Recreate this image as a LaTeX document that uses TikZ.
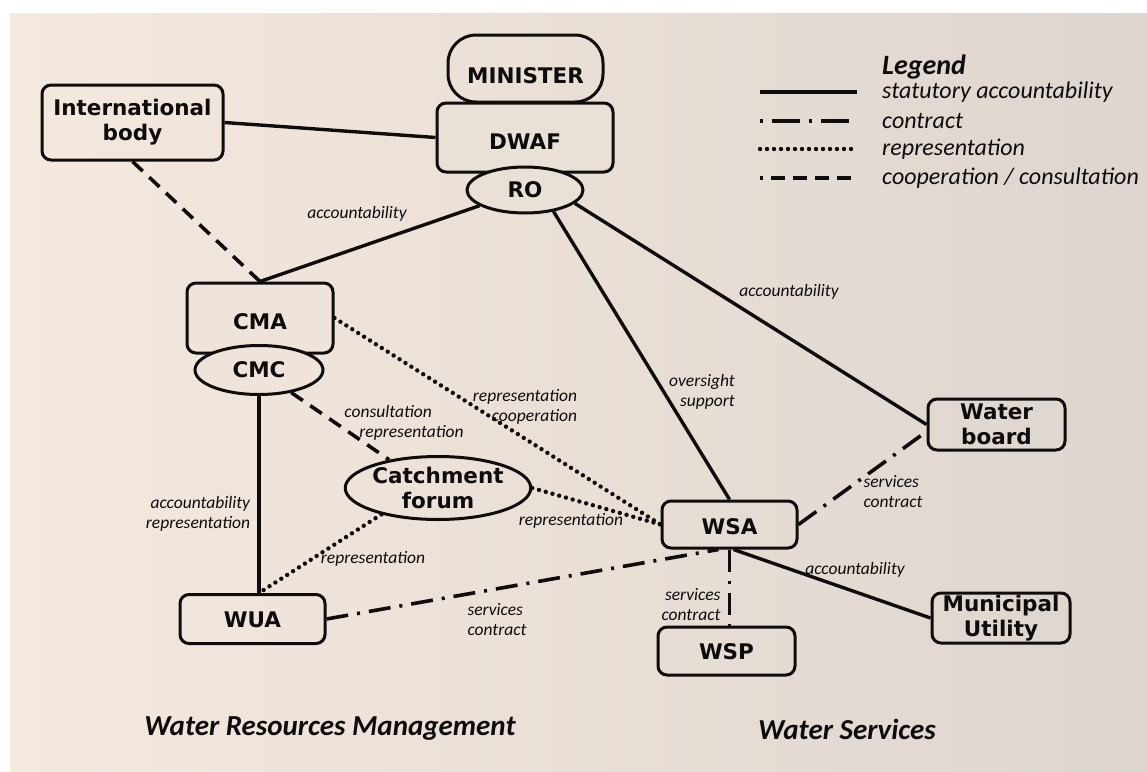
\documentclass[tikz,border=0pt]{standalone}
\usepackage{fontspec}
\setmainfont{Carlito}
\newfontfamily\nodefont{DejaVu Sans}
\usetikzlibrary{shapes.geometric,calc}
\definecolor{bgL}{RGB}{244,233,223}
\definecolor{bgR}{RGB}{221,213,207}
\definecolor{bgA}{RGB}{238,228,219}
\definecolor{bgB}{RGB}{233,224,216}
\definecolor{ink}{RGB}{14,12,12}
\begin{document}
\begin{tikzpicture}[x=1pt,y=-1pt,
  nf/.style={font=\nodefont\bfseries\fontsize{21.5}{25}\selectfont},
  box/.style={nf,draw=ink,line width=3pt,rounded corners=9pt,align=center,inner sep=0pt,text=ink},
  oval/.style={nf,draw=ink,line width=3pt,ellipse,align=center,inner sep=0pt,text=ink},
  th/.style={text height=#1,text depth=0pt},
  stat/.style={draw=ink,line width=3.4pt},
  contract/.style={draw=ink,line width=3.6pt,dash pattern=on 22pt off 9pt on 3pt off 9pt},
  repr/.style={draw=ink,line width=4.4pt,line cap=round,dash pattern=on 0pt off 7pt},
  coop/.style={draw=ink,line width=3.6pt,dash pattern=on 14pt off 9pt},
  lab/.style={font=\itshape\fontsize{17.5}{20}\selectfont,text=ink,inner sep=0pt},
  leg/.style={font=\itshape\fontsize{24}{28}\selectfont,text=ink,anchor=west,inner sep=0pt},
  ttl/.style={font=\bfseries\itshape\fontsize{29}{32}\selectfont,text=ink,inner sep=0pt}]

% background
\fill[white] (0,0) rectangle (1147,771);
\shade[left color=bgL,right color=bgR] (10,13) rectangle (1147,771);
\useasboundingbox (0,0) rectangle (1147,771);

% nodes
\node[box,rounded corners=28pt,minimum width=155pt,minimum height=67pt,th=29pt] (minister) at (525.5,68.5) {MINISTER};
\node[box,fill=bgB,minimum width=176pt,minimum height=69pt,th=24pt] (dwaf) at (525,137.5) {DWAF};
\node[oval,fill=bgB,minimum width=116pt,minimum height=46pt,th=15pt] (ro) at (525,190) {RO};
\node[box,minimum width=181pt,minimum height=75pt] (intl) at (132.5,122.5) {International\\body};
\node[box,fill=bgA,minimum width=146pt,minimum height=70pt,th=23pt] (cma) at (260,318) {CMA};
\node[oval,fill=bgA,minimum width=128pt,minimum height=49pt,th=15pt] (cmc) at (259,370) {CMC};
\node[oval,minimum width=160pt,minimum height=63pt] (cf) at (438,488) {Catchment\\forum};
\node[box,minimum width=145pt,minimum height=49pt,th=16pt] (wua) at (252.5,619) {WUA};
\node[box,minimum width=135pt,minimum height=47pt,th=20pt] (wsa) at (729.5,524.5) {WSA};
\node[box,minimum width=137pt,minimum height=48pt,th=17pt] (wsp) at (726.5,651) {WSP};
\node[box,minimum width=137pt,minimum height=51pt] (wb) at (996.5,424.5) {Water\\board};
\node[box,minimum width=138pt,minimum height=50pt] (mu) at (1001,618) {Municipal\\Utility};

% connectors
\draw[stat] (intl.east) -- (dwaf.west);
\draw[stat] (ro) -- (cma.north);
\draw[stat] (ro.-37) -- (wsa.north);
\draw[stat] (ro.-15) -- (wb.west);
\draw[coop] (intl.south) -- (cma.north);
\draw[repr] (cma.east) -- (wsa.west);
\draw[coop] (cmc.-35) -- (cf.150);
\draw[stat] (cmc.south) -- (cmc.south |- wua.north);
\draw[repr] (cf.east) -- (wsa.west);
\draw[repr] (cf.205) -- (cmc.south |- wua.north);
\draw[contract] (wua.east) -- ([xshift=-11pt]wsa.south);
\draw[contract] (wsa.east) -- ([yshift=20pt]wb.south west);
\draw[contract] (wsa.south) -- (wsa.south |- wsp.north);
\draw[stat] ([xshift=4pt]wsa.south) -- (mu.west);

% edge labels
\node[lab] (l1) at (357,214) {accountability};
\node[lab] (l2) at (789,292) {accountability};
\node[lab,align=right] (l3) at (702,392) {oversight\\support};
\node[lab,align=right] (l4) at (525,407) {representation\\cooperation};
\node[lab,align=left] (l5) at (404,423) {consultation\\\hspace*{15pt}representation};
\node[lab,align=right] (l6) at (198,514) {accountability\\representation};
\node[lab] (l7) at (571,521) {representation};
\node[lab] (l8) at (373,559) {representation};
\node[lab,align=left] (l9) at (497,620) {services\\contract};
\node[lab,align=left] (l10) at (893,492) {services\\contract};
\node[lab,align=right] (l11) at (691,605) {services\\contract};
\node[lab] (l12) at (855,570) {accountability};

% legend
\node[font=\bfseries\itshape\fontsize{28}{30}\selectfont,text=ink,anchor=west,inner sep=0pt] (legt) at (882,67) {Legend};
\coordinate (a1) at (760,92);  \coordinate (b1) at (857,92);
\coordinate (a2) at (760,121); \coordinate (b2) at (857,121);
\coordinate (a3) at (760,149); \coordinate (b3) at (857,149);
\coordinate (a4) at (760,178); \coordinate (b4) at (857,178);
\draw[stat] (a1) -- (b1);
\draw[draw=ink,line width=3.6pt,dash pattern=on 3pt off 9pt on 28pt off 9pt] (a2) -- (b2);
\draw[repr] (a3) -- (b3);
\draw[draw=ink,line width=3.6pt,dash pattern=on 3pt off 8pt on 14pt off 8pt on 14pt off 8pt on 14pt off 8pt on 14pt off 20pt] (a4) -- (b4);
\node[leg] (t1) at (882,92) {statutory accountability};
\node[leg] (t2) at (882,121) {contract};
\node[leg] (t3) at (882,149) {representation};
\node[leg] (t4) at (882,178) {cooperation / consultation};

% titles
\node[ttl] (wrm) at (330,729) {Water Resources Management};
\node[ttl] (ws) at (847,729) {Water Services};
\end{tikzpicture}
\end{document}
